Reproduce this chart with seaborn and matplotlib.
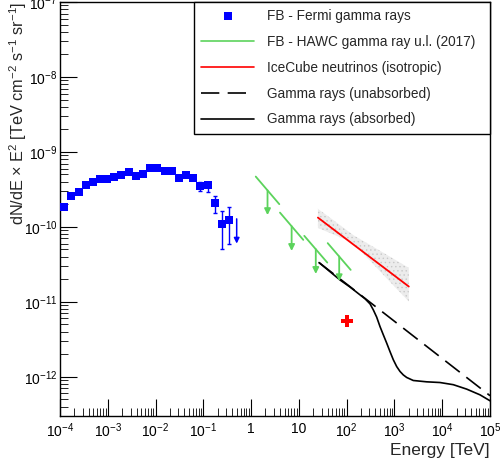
import numpy as np
import pandas as pd
import seaborn as sns
import matplotlib
matplotlib.use("Agg")
import matplotlib.pyplot as plt
from matplotlib.lines import Line2D
from matplotlib.ticker import LogLocator, FuncFormatter, NullFormatter

# Fermi bubbles spectrum (last point is an upper limit)
fermi_e = [1.23e-4, 1.70e-4, 2.46e-4, 3.50e-4, 4.91e-4, 6.87e-4, 9.64e-4, 1.37e-3,
           1.92e-3, 2.74e-3, 3.84e-3, 5.46e-3, 7.66e-3, 1.09e-2, 1.55e-2, 2.18e-2,
           3.10e-2, 4.34e-2, 6.17e-2, 8.63e-2, 0.123, 0.175, 0.245, 0.344]
fermi_flux = [1.87e-10, 2.59e-10, 2.96e-10, 3.60e-10, 3.95e-10, 4.41e-10, 4.32e-10, 4.64e-10,
              4.98e-10, 5.41e-10, 4.83e-10, 5.04e-10, 6.12e-10, 6.12e-10, 5.64e-10, 5.58e-10,
              4.54e-10, 4.94e-10, 4.54e-10, 3.56e-10, 3.60e-10, 2.09e-10, 1.10e-10, 1.24e-10]
fermi_lo = [1.80e-10, 2.50e-10, 2.86e-10, 3.48e-10, 3.82e-10, 4.27e-10, 4.17e-10, 4.48e-10,
            4.80e-10, 5.20e-10, 4.63e-10, 4.82e-10, 5.85e-10, 5.84e-10, 5.36e-10, 5.28e-10,
            4.25e-10, 4.60e-10, 4.20e-10, 3.05e-10, 2.96e-10, 1.52e-10, 5.1e-11, 6.0e-11]
fermi_hi = [1.94e-10, 2.68e-10, 3.06e-10, 3.72e-10, 4.08e-10, 4.55e-10, 4.47e-10, 4.80e-10,
            5.16e-10, 5.62e-10, 5.03e-10, 5.26e-10, 6.39e-10, 6.40e-10, 5.92e-10, 5.88e-10,
            4.83e-10, 5.28e-10, 4.88e-10, 4.02e-10, 3.98e-10, 2.62e-10, 1.65e-10, 1.87e-10]
fermi_ul_e = 0.499
fermi_ul = 1.28e-10

# HAWC upper limits: bin edges and the limit at each edge
hawc_e_lo = [1.25, 4.02, 12.97, 40.1]
hawc_e_hi = [3.89, 12.36, 39.3, 121.3]
hawc_ul_lo = [4.69e-10, 1.55e-10, 7.59e-11, 6.07e-11]
hawc_ul_hi = [2.01e-10, 6.71e-11, 3.34e-11, 2.67e-11]

# IceCube isotropic neutrino flux and its uncertainty band
ice_e = [25.0, 2000.0]
ice_flux = [1.33e-10, 1.60e-11]
ice_band_e = [25.0, 50.0, 100.0, 141.0, 316.0, 1000.0, 2000.0]
ice_band_lo = [9.7e-11, 8.04e-11, 6.67e-11, 6.03e-11, 3.48e-11, 1.60e-11, 1.01e-11]
ice_band_hi = [1.74e-10, 1.26e-10, 9.04e-11, 7.70e-11, 5.70e-11, 3.69e-11, 2.84e-11]

# predicted gamma rays
unabs_e = [26.4, 1.0e5]
unabs_flux = [3.34e-11, 5.6e-13]
abs_e = [26.4, 72.4, 117.0, 190.0, 242.0, 308.0, 361.0, 425.0, 498.0, 585.0, 689.0, 807.0,
         946.0, 1114.0, 1306.0, 1531.0, 1803.0, 2477.0, 4732.0, 8974.0, 17060.0, 32510.0,
         61660.0, 1.0e5]
abs_flux = [3.34e-11, 1.96e-11, 1.58e-11, 1.24e-11, 1.10e-11, 9.4e-12, 7.82e-12, 6.25e-12,
            4.69e-12, 3.63e-12, 2.81e-12, 2.17e-12, 1.69e-12, 1.37e-12, 1.18e-12, 1.06e-12,
            9.8e-13, 8.93e-13, 8.57e-13, 8.39e-13, 7.85e-13, 6.85e-13, 5.75e-13, 4.79e-13]

# single red point
cross_e = [100.0]
cross_flux = [5.58e-12]

sns.set_style("ticks")
plt.rcParams["font.family"] = ["Liberation Sans", "DejaVu Sans"]
plt.rcParams["mathtext.fontset"] = "custom"
plt.rcParams["mathtext.rm"] = "Liberation Sans"
plt.rcParams["mathtext.it"] = "Liberation Sans:italic"
plt.rcParams["mathtext.default"] = "regular"
plt.rcParams["hatch.linewidth"] = 0.5

green = "#5cd35c"
blue = "#0000ff"

fig = plt.figure(figsize=(5.02, 4.67), dpi=100)
ax = fig.add_axes([60 / 502, 1 - 416 / 467, 430 / 502, 414 / 467])
ax.set_xscale("log")
ax.set_yscale("log")

# Fermi
ax.errorbar(fermi_e, fermi_flux,
            yerr=[np.array(fermi_flux) - np.array(fermi_lo), np.array(fermi_hi) - np.array(fermi_flux)],
            fmt="none", ecolor=blue, elinewidth=1, capsize=1.5, zorder=3)
sns.scatterplot(x=fermi_e, y=fermi_flux, marker="s", s=30, color=blue, linewidth=0, ax=ax, zorder=4)
ax.annotate("", xy=(fermi_ul_e, fermi_ul * 10 ** -0.33), xytext=(fermi_ul_e, fermi_ul),
            arrowprops=dict(arrowstyle="-|>", color=blue, lw=1.1, mutation_scale=8,
                            shrinkA=0, shrinkB=0))

# HAWC
hawc = pd.DataFrame({
    "E": hawc_e_lo + hawc_e_hi,
    "flux": hawc_ul_lo + hawc_ul_hi,
    "seg": list(range(len(hawc_e_lo))) * 2,
})
sns.lineplot(data=hawc, x="E", y="flux", units="seg", estimator=None, color=green, lw=1.3, ax=ax)
for lo, hi, f_lo, f_hi in zip(hawc_e_lo, hawc_e_hi, hawc_ul_lo, hawc_ul_hi):
    e_mid = np.sqrt(lo * hi)
    f_mid = np.sqrt(f_lo * f_hi)
    ax.annotate("", xy=(e_mid, f_mid * 10 ** -0.33), xytext=(e_mid, f_mid),
                arrowprops=dict(arrowstyle="-|>", color=green, lw=1.3, mutation_scale=9,
                                shrinkA=0, shrinkB=0))

# IceCube
ax.fill_between(ice_band_e, ice_band_lo, ice_band_hi, facecolor="#ececec",
                edgecolor="#c8c8c8", hatch="....", linewidth=0, zorder=1)
sns.lineplot(x=ice_e, y=ice_flux, color="red", lw=1.3, ax=ax, zorder=2)

# gamma rays
sns.lineplot(x=unabs_e, y=unabs_flux, color="black", lw=1.2, ax=ax)
ax.lines[-1].set_dashes([11, 5])
sns.lineplot(x=abs_e, y=abs_flux, color="black", lw=1.2, ax=ax, sort=False)
ax.lines[-1].set_solid_joinstyle("round")

ax.plot(cross_e, cross_flux, marker="P", color="red", ms=8, mew=0, ls="none")

ax.set_xlim(1e-4, 1e5)
ax.set_ylim(3.0e-13, 1e-7)


def fmt(v, pos):
    e = int(round(np.log10(v)))
    if e == 0:
        return "1"
    if e == 1:
        return "10"
    return r"$10^{%d}$" % e


for axis in (ax.xaxis, ax.yaxis):
    axis.set_major_locator(LogLocator(base=10, numticks=20))
    axis.set_minor_locator(LogLocator(base=10, subs=np.arange(2, 10), numticks=20))
    axis.set_major_formatter(FuncFormatter(fmt))
    axis.set_minor_formatter(NullFormatter())

ax.tick_params(which="both", direction="in", colors="black", labelsize=10)
ax.tick_params(axis="x", which="major", length=12, width=0.8, pad=4)
ax.tick_params(axis="y", which="major", length=12, width=0.8, pad=2)
ax.tick_params(which="minor", length=6, width=0.6)
for s in ax.spines.values():
    s.set_color("black")
    s.set_linewidth(1.0)

ax.set_xlabel("Energy [TeV]", fontsize=12.5, loc="right")
ax.xaxis.set_label_coords(1.0, -0.065)
ax.set_ylabel(r"dN/dE $\times$ E$^{2}$ [TeV cm$^{-2}$ s$^{-1}$ sr$^{-1}$]", fontsize=11.7, loc="top")
ax.yaxis.set_label_coords(-0.071, 1.0)

handles = [
    Line2D([], [], marker="s", color=blue, ls="none", ms=5.5, mew=0),
    Line2D([], [], color=green, lw=1.2),
    Line2D([], [], color="red", lw=1.2),
    Line2D([], [], color="black", lw=1.2, dashes=[11, 5]),
    Line2D([], [], color="black", lw=1.2),
]
labels = ["FB - Fermi gamma rays", "FB - HAWC gamma ray u.l. (2017)", "IceCube neutrinos (isotropic)",
          "Gamma rays (unabsorbed)", "Gamma rays (absorbed)"]
leg = ax.legend(handles, labels, loc="upper left", bbox_to_anchor=(0.3116, 0.688, 0.6884, 0.312),
                mode="expand", borderaxespad=0, fontsize=9.8, frameon=True, fancybox=False,
                edgecolor="black", framealpha=1, handlelength=3.85, handletextpad=0.95,
                labelspacing=0.86, borderpad=0.55, numpoints=1)
leg.get_frame().set_linewidth(1.0)

fig.savefig("out.png", dpi=100)
